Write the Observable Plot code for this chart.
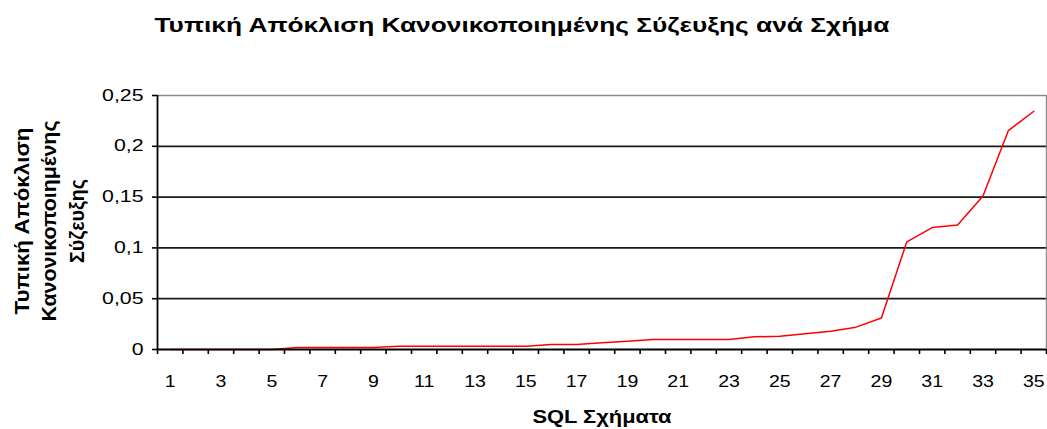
<!DOCTYPE html>
<html>
<head>
<meta charset="utf-8">
<script src="https://cdn.jsdelivr.net/npm/d3@7"></script>
<script src="https://cdn.jsdelivr.net/npm/@observablehq/plot@0.6"></script>
<style>
  html, body { margin: 0; padding: 0; background: #fff; }
  #chart svg { display: block; }
</style>
</head>
<body>
<div id="chart"></div>
<script>
// ---- Data ----
const schemas = [1,2,3,4,5,6,7,8,9,10,11,12,13,14,15,16,17,18,19,20,21,22,23,24,25,26,27,28,29,30,31,32,33,34,35];
const stdDev = [0,0,0,0,0,
  0.002,0.002,0.002,0.002,
  0.0033,0.0033,0.0033,0.0033,0.0033,0.0033,
  0.005,0.005,0.0066,0.008,
  0.0098,0.0098,0.0098,0.0098,
  0.0125,0.013,0.0155,0.018,0.022,0.031,
  0.106,0.120,0.1225,0.151,0.2155,0.2345];
const xTickLabels = [1,3,5,7,9,11,13,15,17,19,21,23,25,27,29,31,33,35];
const yTicks = [0,0.05,0.1,0.15,0.2,0.25];
const yTickLabels = ["0","0,05","0,1","0,15","0,2","0,25"];
const titleText = "Τυπική Απόκλιση Κανονικοποιημένης Σύζευξης ανά Σχήμα";
const xLabelText = "SQL Σχήματα";
const yLabelLines = ["Τυπική Απόκλιση","Κανονικοποιημένης","Σύζευξης"];

const data = schemas.map((s, i) => ({schema: s, value: stdDev[i]}));
const boundaries = schemas.map(s => s - 0.5).concat([schemas[schemas.length - 1] + 0.5]);
const gridVals = yTicks.filter(v => v > 0 && v < 0.25);

const W = 1047, H = 429;
const plot = Plot.plot({
  width: W, height: H,
  marginTop: 95, marginBottom: 80, marginLeft: 157, marginRight: 1,
  style: {fontFamily: "'Liberation Sans', Arial, sans-serif", fontSize: "16px", color: "#000", background: "#fff", overflow: "visible"},
  x: {type: "linear", domain: [0.5, 35.5]},
  y: {type: "linear", domain: [0, 0.25]},
  marks: [
    Plot.ruleY(gridVals, {stroke: "#1a1a1a", strokeWidth: 1.8}),
    Plot.ruleY([0.25], {stroke: "#8c8c8c", strokeWidth: 1.4}),
    Plot.ruleX([35.5], {stroke: "#8c8c8c", strokeWidth: 1.4}),
    Plot.axisX({ticks: boundaries, tickSize: 5, tickFormat: () => "", label: null, stroke: "#000", strokeWidth: 1.6}),
    Plot.axisX({ticks: xTickLabels, tickSize: 0, tickPadding: 26, tickFormat: d => String(d), label: null, fill: "#000", fontSize: 16}),
    Plot.axisY({ticks: yTicks, tickSize: 5, tickPadding: 9, tickFormat: d => yTickLabels[yTicks.indexOf(d)], label: null, stroke: "#000", strokeWidth: 1.6, fill: "#000", fontSize: 16}),
    Plot.line(data, {x: "schema", y: "value", stroke: "#ff0000", strokeWidth: 1.5}),
    Plot.ruleX([0.5], {stroke: "#000", strokeWidth: 1.8}),
    Plot.ruleY([0], {stroke: "#000", strokeWidth: 2.2})
  ]
});
document.getElementById("chart").appendChild(plot);

const svg = d3.select(plot);
function stretch(sel, factor) {
  sel.each(function() {
    const L = this.getComputedTextLength();
    if (L > 0) {
      this.setAttribute("textLength", L * factor);
      this.setAttribute("lengthAdjust", "spacingAndGlyphs");
    }
  });
}
stretch(svg.selectAll('g[aria-label="x-axis tick label"] text'), 1.22);
stretch(svg.selectAll('g[aria-label="y-axis tick label"] text'), 1.33);

const font = "'Liberation Sans', Arial, sans-serif";
// Title
svg.append("text")
  .attr("x", 522).attr("y", 32)
  .attr("text-anchor", "middle")
  .attr("font-family", font).attr("font-weight", "bold").attr("font-size", 20)
  .attr("fill", "#000")
  .attr("textLength", 735).attr("lengthAdjust", "spacingAndGlyphs")
  .text(titleText);
// X label
svg.append("text")
  .attr("x", 602).attr("y", 423)
  .attr("text-anchor", "middle")
  .attr("font-family", font).attr("font-weight", "bold").attr("font-size", 19)
  .attr("fill", "#000")
  .attr("textLength", 139).attr("lengthAdjust", "spacingAndGlyphs")
  .text(xLabelText);
// Y label (three rotated lines)
const yLabelBase = [29, 56, 83.5];
const yLabelLen = [187, 201, 84];
yLabelLines.forEach((t, i) => {
  svg.append("text")
    .attr("transform", `translate(${yLabelBase[i]},221) rotate(-90)`)
    .attr("text-anchor", "middle")
    .attr("font-family", font).attr("font-weight", "bold").attr("font-size", 20)
    .attr("fill", "#000")
    .attr("textLength", yLabelLen[i]).attr("lengthAdjust", "spacingAndGlyphs")
    .text(t);
});
</script>
</body>
</html>
